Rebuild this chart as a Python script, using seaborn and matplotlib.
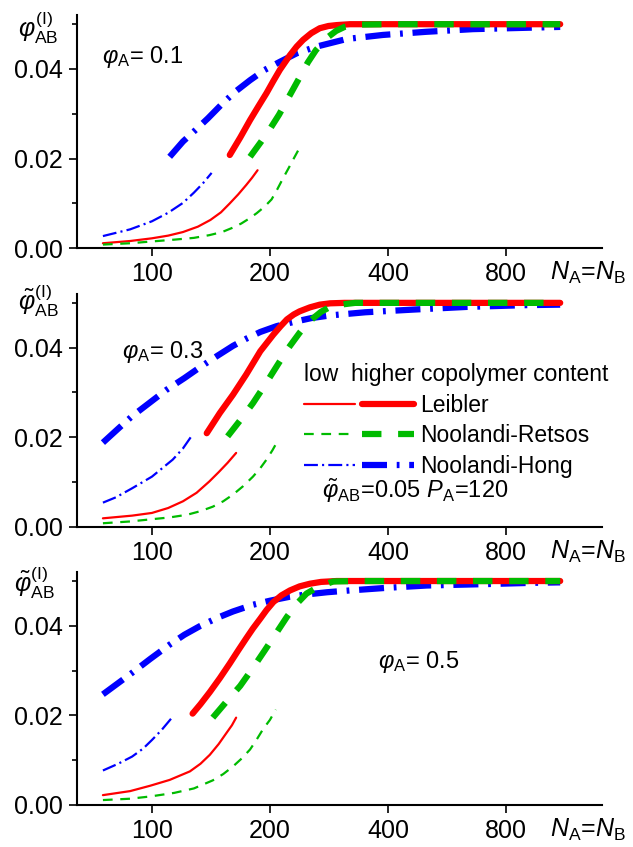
import matplotlib
matplotlib.use("Agg")
import matplotlib.pyplot as plt
import seaborn as sns
from matplotlib.lines import Line2D
from matplotlib.legend_handler import HandlerTuple
from matplotlib.ticker import FixedLocator, FixedFormatter, NullLocator

# ---------------- data ----------------
# panel 1: phi_A = 0.1
n1_leib_lo = [75, 88, 100, 110, 120, 131, 141, 150, 158, 166, 174, 180, 186]
y1_leib_lo = [0.0011, 0.0016, 0.0022, 0.0028, 0.0036, 0.0048, 0.0063, 0.0080, 0.0100, 0.0120, 0.0141, 0.0157, 0.0174]
n1_leib_hi = [158, 168, 178, 187, 196, 204, 212, 219, 225, 234, 243, 255, 268, 282, 296, 320, 400, 600, 1100]
y1_leib_hi = [0.0208, 0.0247, 0.0286, 0.0317, 0.0346, 0.0373, 0.0398, 0.0416, 0.0431, 0.0450, 0.0465, 0.0480, 0.0491, 0.0496, 0.0498, 0.0500, 0.0500, 0.0500, 0.0500]
n1_nr_lo = [75, 88, 100, 114, 128, 140, 151, 160, 169, 177, 185, 194, 202, 209, 216, 223, 230, 236, 241]
y1_nr_lo = [0.0008, 0.0011, 0.0015, 0.0019, 0.0023, 0.0029, 0.0036, 0.0045, 0.0055, 0.0066, 0.0078, 0.0093, 0.0109, 0.0132, 0.0156, 0.0178, 0.0200, 0.0218, 0.0232]
n1_nr_hi = [178, 190, 200, 211, 222, 237, 250, 262, 271, 282, 295, 310, 330, 400, 600, 1100]
y1_nr_hi = [0.0204, 0.0238, 0.0266, 0.0298, 0.0333, 0.0378, 0.0415, 0.0442, 0.0456, 0.0472, 0.0485, 0.0494, 0.0499, 0.0500, 0.0500, 0.0500]
n1_nh_lo = [75, 88, 100, 110, 120, 128, 135, 142]
y1_nh_lo = [0.0027, 0.0042, 0.0060, 0.0079, 0.0101, 0.0124, 0.0145, 0.0168]
n1_nh_hi = [111, 120, 130, 139, 151, 163, 178, 194, 212, 234, 263, 314, 388, 500, 659, 900, 1100]
y1_nh_hi = [0.0204, 0.0238, 0.0266, 0.0290, 0.0322, 0.0349, 0.0375, 0.0398, 0.0416, 0.0435, 0.0450, 0.0467, 0.0476, 0.0483, 0.0489, 0.0492, 0.0494]

# panel 2: phi_A = 0.3
n2_leib_lo = [75, 89, 100, 110, 120, 130, 140, 148, 156, 164]
y2_leib_lo = [0.0019, 0.0025, 0.0031, 0.0042, 0.0057, 0.0076, 0.0101, 0.0122, 0.0143, 0.0165]
n2_leib_hi = [138, 149, 161, 174, 189, 204, 213, 221, 230, 238, 253, 268, 285, 310, 350, 450, 1100]
y2_leib_hi = [0.0209, 0.0254, 0.0295, 0.0340, 0.0392, 0.0429, 0.0448, 0.0463, 0.0474, 0.0481, 0.0490, 0.0496, 0.0499, 0.0500, 0.0500, 0.0500, 0.0500]
n2_nr_lo = [75, 88, 100, 111, 123, 133, 143, 152, 161, 171, 181, 189, 196, 203, 210]
y2_nr_lo = [0.0008, 0.0012, 0.0017, 0.0021, 0.0027, 0.0035, 0.0045, 0.0057, 0.0072, 0.0091, 0.0112, 0.0131, 0.0150, 0.0171, 0.0194]
n2_nr_hi = [156, 168, 181, 194, 208, 222, 238, 248, 258, 270, 289, 330, 450, 1100]
y2_nr_hi = [0.0202, 0.0238, 0.0276, 0.0316, 0.0358, 0.0397, 0.0433, 0.0452, 0.0466, 0.0480, 0.0494, 0.0500, 0.0500, 0.0500]
n2_nh_lo = [75, 81, 89, 100, 113, 120, 127]
y2_nh_lo = [0.0054, 0.0066, 0.0086, 0.0112, 0.0150, 0.0175, 0.0206]
n2_nh_hi = [75, 82, 89, 99, 109, 121, 133, 147, 161, 175, 189, 208, 229, 255, 285, 350, 464, 636, 905, 1100]
y2_nh_hi = [0.0188, 0.0219, 0.0247, 0.0278, 0.0306, 0.0332, 0.0357, 0.0382, 0.0404, 0.0421, 0.0435, 0.0448, 0.0457, 0.0466, 0.0472, 0.0479, 0.0485, 0.0491, 0.0495, 0.0496]

# panel 3: phi_A = 0.5
n3_leib_lo = [75, 88, 99, 111, 125, 133, 140.5, 148, 155, 160, 164]
y3_leib_lo = [0.0022, 0.0031, 0.0043, 0.0056, 0.0075, 0.0092, 0.0112, 0.0136, 0.0161, 0.0178, 0.0195]
n3_leib_hi = [127, 133, 140.5, 149, 158, 166, 174, 181, 189, 196, 204, 214, 225, 238, 253, 270, 296, 350, 1100]
y3_leib_hi = [0.0204, 0.0225, 0.0252, 0.0283, 0.0316, 0.0345, 0.0372, 0.0394, 0.0416, 0.0435, 0.0453, 0.0468, 0.0479, 0.0488, 0.0494, 0.0498, 0.0500, 0.0500, 0.0500]
n3_nr_lo = [75, 88, 99, 114, 128, 143, 152, 161, 170, 178, 185, 192, 200, 207]
y3_nr_lo = [0.0011, 0.0014, 0.0019, 0.0027, 0.0037, 0.0055, 0.0069, 0.0086, 0.0105, 0.0124, 0.0146, 0.0169, 0.0190, 0.0213]
n3_nr_hi = [143, 155, 168, 181, 194, 208, 221, 234, 248, 262, 274, 290, 330, 1100]
y3_nr_hi = [0.0195, 0.0231, 0.0266, 0.0306, 0.0345, 0.0385, 0.0420, 0.0449, 0.0472, 0.0484, 0.0491, 0.0499, 0.0500, 0.0500]
n3_nh_lo = [75, 82, 89, 95, 100, 106, 112]
y3_nh_lo = [0.0077, 0.0092, 0.0108, 0.0126, 0.0145, 0.0168, 0.0193]
n3_nh_hi = [75, 82, 89, 99, 111, 121, 133, 148, 161, 181, 200, 225, 248, 280, 320, 400, 503, 700, 937, 1100]
y3_nh_hi = [0.0247, 0.0272, 0.0295, 0.0326, 0.0358, 0.0380, 0.0400, 0.0419, 0.0432, 0.0447, 0.0456, 0.0465, 0.0470, 0.0475, 0.0479, 0.0485, 0.0490, 0.0493, 0.0496, 0.0497]

phi_labels = [r"$\varphi_{\rm A}$= 0.1", r"$\varphi_{\rm A}$= 0.3", r"$\varphi_{\rm A}$= 0.5"]
y_labels = [r"$\varphi_{\rm AB}^{\rm (I)}$", r"$\tilde{\varphi}_{\rm AB}^{\rm (I)}$", r"$\tilde{\varphi}_{\rm AB}^{\rm (I)}$"]
x_ticks = [100, 200, 400, 800]
x_ticklabels = ["100", "200", "400", "800"]
y_ticks = [0.0, 0.02, 0.04]
y_ticklabels = ["0.00", "0.02", "0.04"]
y_minor = [0.01, 0.03, 0.05]
model_names = ["Leibler", "Noolandi-Retsos", "Noolandi-Hong"]
legend_title = "low  higher copolymer content"
param_text = r"$\tilde{\varphi}_{\rm AB}$=0.05 $P_{\rm A}$=120"

# ---------------- style ----------------
sns.set_style("ticks")
plt.rcParams["font.family"] = ["Liberation Sans", "DejaVu Sans"]
plt.rcParams["mathtext.fontset"] = "custom"
plt.rcParams["mathtext.rm"] = "Liberation Sans"
plt.rcParams["mathtext.it"] = "Liberation Sans:italic"
plt.rcParams["mathtext.bf"] = "Liberation Sans:bold"
plt.rcParams["lines.scale_dashes"] = False
for k in ["text.color", "axes.labelcolor", "xtick.color", "ytick.color",
          "xtick.labelcolor", "ytick.labelcolor", "axes.edgecolor"]:
    plt.rcParams[k] = "black"

RED, GREEN, BLUE = "#ff0000", "#00bb00", "#0000ff"
LW_THIN, LW_THICK = 1.6, 4.5
styles = {
    "leib_lo": dict(color=RED, linewidth=LW_THIN, linestyle="-"),
    "leib_hi": dict(color=RED, linewidth=LW_THICK, linestyle="-"),
    "nr_lo": dict(color=GREEN, linewidth=LW_THIN, linestyle=(0, (7, 5.5))),
    "nr_hi": dict(color=GREEN, linewidth=LW_THICK, linestyle=(0, (14, 12))),
    "nh_lo": dict(color=BLUE, linewidth=LW_THIN, linestyle=(0, (10, 3, 1.5, 3))),
    "nh_hi": dict(color=BLUE, linewidth=LW_THICK, linestyle=(0, (18, 7, 2, 7))),
}

panels = [
    dict(nh_lo=(n1_nh_lo, y1_nh_lo), nh_hi=(n1_nh_hi, y1_nh_hi),
         leib_lo=(n1_leib_lo, y1_leib_lo), leib_hi=(n1_leib_hi, y1_leib_hi),
         nr_lo=(n1_nr_lo, y1_nr_lo), nr_hi=(n1_nr_hi, y1_nr_hi)),
    dict(nh_lo=(n2_nh_lo, y2_nh_lo), nh_hi=(n2_nh_hi, y2_nh_hi),
         leib_lo=(n2_leib_lo, y2_leib_lo), leib_hi=(n2_leib_hi, y2_leib_hi),
         nr_lo=(n2_nr_lo, y2_nr_lo), nr_hi=(n2_nr_hi, y2_nr_hi)),
    dict(nh_lo=(n3_nh_lo, y3_nh_lo), nh_hi=(n3_nh_hi, y3_nh_hi),
         leib_lo=(n3_leib_lo, y3_leib_lo), leib_hi=(n3_leib_hi, y3_leib_hi),
         nr_lo=(n3_nr_lo, y3_nr_lo), nr_hi=(n3_nr_hi, y3_nr_hi)),
]
order = ["nh_lo", "nh_hi", "leib_lo", "leib_hi", "nr_lo", "nr_hi"]

fig = plt.figure(figsize=(6.33, 8.47), dpi=100)
bottoms = [0.707, 0.378, 0.0496]
phi_pos = [(0.048, 0.82), (0.086, 0.751), (0.573, 0.612)]
ylab_pos = [(-0.074, 0.945), (-0.074, 0.97), (-0.082, 0.955)]

for i, (b, data) in enumerate(zip(bottoms, panels)):
    ax = fig.add_axes([0.1216, b, 0.8294, 0.275])
    for key in order:
        xs, ys = data[key]
        sns.lineplot(x=xs, y=ys, ax=ax, sort=False, estimator=None, **styles[key])
    ax.set_xscale("log", base=2)
    ax.set_xlim(64.4, 1406)
    ax.set_ylim(0, 0.052)
    ax.xaxis.set_major_locator(FixedLocator(x_ticks))
    ax.xaxis.set_major_formatter(FixedFormatter(x_ticklabels))
    ax.xaxis.set_minor_locator(NullLocator())
    ax.yaxis.set_major_locator(FixedLocator(y_ticks))
    ax.yaxis.set_major_formatter(FixedFormatter(y_ticklabels))
    ax.yaxis.set_minor_locator(FixedLocator(y_minor))
    ax.tick_params(axis="both", which="major", length=6, width=1.2, labelsize=18, pad=4,
                   color="black", labelcolor="black")
    ax.tick_params(axis="y", which="minor", length=3.5, width=1.2, color="black")
    for s in ["top", "right"]:
        ax.spines[s].set_visible(False)
    for s in ["left", "bottom"]:
        ax.spines[s].set_linewidth(1.5)
        ax.spines[s].set_color("black")
    ax.set_xlabel(r"$N_{\rm A}$=$N_{\rm B}$", fontsize=18, color="black")
    ax.xaxis.set_label_coords(0.973, -0.052)
    ax.xaxis.label.set_va("top")
    ax.set_ylabel(y_labels[i], fontsize=18, rotation=0, ha="center", va="center", color="black")
    ax.yaxis.set_label_coords(*ylab_pos[i])
    ax.text(phi_pos[i][0], phi_pos[i][1], phi_labels[i], transform=ax.transAxes,
            fontsize=17, ha="left", va="center", color="black")
    if i == 1:
        handles = [
            (Line2D([], [], **styles["leib_lo"]), Line2D([], [], **styles["leib_hi"])),
            (Line2D([], [], **styles["nr_lo"]), Line2D([], [], **styles["nr_hi"])),
            (Line2D([], [], **styles["nh_lo"]), Line2D([], [], **styles["nh_hi"])),
        ]
        leg = ax.legend(handles, model_names, handler_map={tuple: HandlerTuple(ndivide=None, pad=0.3)},
                        title=legend_title, title_fontsize=16.5, fontsize=16.5,
                        loc="upper left", bbox_to_anchor=(0.41, 0.752), frameon=False,
                        borderpad=0, handlelength=4.8, handletextpad=0.3, labelspacing=0.33,
                        alignment="left")
        for t in leg.get_texts():
            t.set_color("black")
        leg.get_title().set_color("black")
        ax.text(0.467, 0.155, param_text, transform=ax.transAxes, fontsize=17,
                ha="left", va="center", color="black")

fig.savefig("out.png", dpi=100)
